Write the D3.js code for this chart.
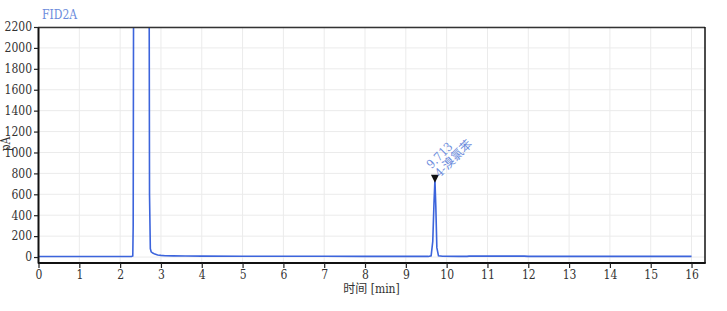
<!DOCTYPE html>
<html>
<head>
<meta charset="utf-8">
<script src="https://cdn.jsdelivr.net/npm/d3@7"></script>
<style>
  body { margin: 0; background: #fff; }
  svg text { font-stretch: condensed; }
</style>
</head>
<body>
<script>
// chromatogram FID2A, time in min, signal in pA
var times   = [0, 0.5, 1, 1.5, 2, 2.28, 2.31, 2.32, 2.34, 2.70, 2.72, 2.74, 2.76, 2.80, 2.85, 2.92, 3.0, 3.1, 3.3, 3.6, 4, 5, 6, 7, 8, 9, 9.55, 9.62, 9.66, 9.69, 9.713, 9.735, 9.76, 9.80, 9.9, 10.3, 10.5, 10.55, 11.2, 11.9, 12, 13, 14, 15, 16]
var signal  = [5, 5, 5, 5, 5, 5, 10, 300, 5000, 5000, 600, 80, 50, 38, 28, 20, 16, 13, 11, 10, 9, 8, 7, 7, 6, 6, 6, 12, 150, 520, 740, 480, 90, 12, 7, 6, 6, 9, 9, 9, 6, 6, 6, 6, 6]
var xTicks  = [0, 1, 2, 3, 4, 5, 6, 7, 8, 9, 10, 11, 12, 13, 14, 15, 16]
var yTicks  = [0, 200, 400, 600, 800, 1000, 1200, 1400, 1600, 1800, 2000, 2200]
var peakTime = 9.713
var peakValue = 740
var peakName = "4-溴氯苯"

var W = 727, H = 311
var margin = {top: 27, right: 22, bottom: 48, left: 38}
var width = W - margin.left - margin.right,
    height = H - margin.top - margin.bottom
var serif = "'DejaVu Serif Condensed', 'DejaVu Serif', serif"
var cjk = "'DejaVu Serif Condensed', 'DejaVu Serif', 'Noto Sans CJK SC', serif"

var svg = d3.select("body").append("svg")
  .attr("width", W)
  .attr("height", H)

var g = svg.append("g")
  .attr("transform", "translate(" + margin.left + "," + margin.top + ")")

var x = d3.scaleLinear().domain([0, 16.33]).range([0.5, width])
var y = d3.scaleLinear().domain([-57, 2200]).range([height, 0])

// grid
g.selectAll(".vgrid").data(xTicks).enter().append("line")
  .attr("x1", function(d){ return x(d) }).attr("x2", function(d){ return x(d) })
  .attr("y1", 0).attr("y2", height)
  .attr("stroke", "#ebebeb").attr("stroke-width", 1)
g.selectAll(".hgrid").data(yTicks).enter().append("line")
  .attr("x1", 0).attr("x2", width)
  .attr("y1", function(d){ return y(d) }).attr("y2", function(d){ return y(d) })
  .attr("stroke", "#ebebeb").attr("stroke-width", 1)

// clip for the trace
g.append("clipPath").attr("id", "clip")
  .append("rect").attr("x", 0).attr("y", 0).attr("width", width).attr("height", height)

var line = d3.line()
  .x(function(d, i){ return x(times[i]) })
  .y(function(d){ return y(d) })

g.append("path")
  .datum(signal)
  .attr("clip-path", "url(#clip)")
  .attr("d", line)
  .attr("fill", "none")
  .attr("stroke", "#3c64dc")
  .attr("stroke-width", 1.6)

// frame
g.append("line").attr("x1", 0).attr("x2", width).attr("y1", 0.5).attr("y2", 0.5)
  .attr("stroke", "#333").attr("stroke-width", 1.5)
g.append("line").attr("x1", width).attr("x2", width).attr("y1", 0).attr("y2", height)
  .attr("stroke", "#111").attr("stroke-width", 1.5)

// axes
var xAxis = g.append("g")
  .attr("transform", "translate(0," + height + ")")
  .call(d3.axisBottom(x).tickValues(xTicks).tickFormat(d3.format("d")).tickSize(5).tickPadding(2).tickSizeOuter(0))
var yAxis = g.append("g")
  .call(d3.axisLeft(y).tickValues(yTicks).tickFormat(d3.format("d")).tickSize(4).tickPadding(2).tickSizeOuter(0))

;[xAxis, yAxis].forEach(function(a){
  a.attr("font-family", serif).attr("font-size", 12)
  a.select(".domain").attr("stroke", "#111").attr("stroke-width", 2)
  a.selectAll(".tick line").attr("stroke", "#222").attr("stroke-width", 1.2)
  a.selectAll(".tick text").attr("fill", "#333")
})
xAxis.select(".domain").attr("d", "M0,0H" + (width + 0.75))

// labels
svg.append("text")
  .attr("x", 42).attr("y", 19)
  .attr("font-family", serif)
  .attr("font-size", 12)
  .attr("fill", "#6b8bdc")
  .text("FID2A")

svg.append("text")
  .attr("transform", "translate(10,144)rotate(-90)")
  .attr("text-anchor", "middle")
  .attr("font-family", serif)
  .attr("font-size", 12)
  .attr("fill", "#333")
  .text("pA")

svg.append("text")
  .attr("x", margin.left + width / 2).attr("y", 293)
  .attr("text-anchor", "middle")
  .attr("font-family", cjk)
  .attr("font-size", 12)
  .attr("fill", "#333")
  .text("时间 [min]")

// peak marker and annotation
var px = margin.left + x(peakTime), py = margin.top + y(peakValue)
svg.append("path")
  .attr("d", "M" + (px - 4) + "," + (py - 5) + "L" + (px + 4) + "," + (py - 5) + "L" + px + "," + (py + 3) + "Z")
  .attr("fill", "#111")

var ann = svg.append("g")
  .attr("transform", "translate(" + (px - 2) + "," + (py - 9) + ")rotate(-45)")
  .attr("fill", "#6b8bdc")
ann.append("text")
  .attr("x", 0).attr("y", -2)
  .attr("font-family", serif)
  .attr("font-size", 12)
  .text(peakTime.toFixed(3))
ann.append("text")
  .attr("x", 0).attr("y", 10)
  .attr("font-family", cjk)
  .attr("font-size", 12)
  .text(peakName)
</script>
</body>
</html>
